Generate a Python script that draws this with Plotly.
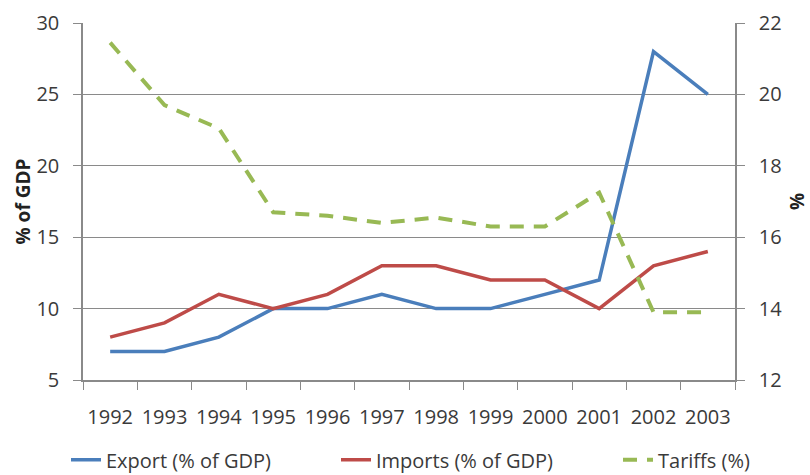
import plotly.graph_objects as go

# Trade openness and tariff levels, 1992-2003
years = ["1992", "1993", "1994", "1995", "1996", "1997",
         "1998", "1999", "2000", "2001", "2002", "2003"]
exports_pct_gdp = [7, 7, 8, 10, 10, 11, 10, 10, 11, 12, 28, 25]
imports_pct_gdp = [8, 9, 11, 10, 11, 13, 13, 12, 12, 10, 13, 14]
tariffs_pct = [21.45, 19.7, 19.05, 16.7, 16.6, 16.4, 16.55, 16.3, 16.3, 17.25, 13.9, 13.9]

left_ticks = [5, 10, 15, 20, 25, 30]
right_ticks = [12, 14, 16, 18, 20, 22]

FONT = "Open Sans"
TEXT = "#3a3a3a"
GRID = "#8a8a8a"
FS = 20

fig = go.Figure()
fig.add_trace(go.Scatter(
    x=years, y=exports_pct_gdp, name="Export (% of GDP)", mode="lines",
    line=dict(color="#4a7ebb", width=3.5), legend="legend",
))
fig.add_trace(go.Scatter(
    x=years, y=imports_pct_gdp, name="Imports (% of GDP)", mode="lines",
    line=dict(color="#be4b48", width=3.5), legend="legend2",
))
fig.add_trace(go.Scatter(
    x=years, y=tariffs_pct, name="Tariffs (%)", mode="lines", yaxis="y2",
    line=dict(color="#98b954", width=4, dash="14px,10px"), legend="legend3",
))

# one single-entry legend per series, spread along the bottom
legend_style = dict(
    orientation="h", xref="container", yref="container",
    xanchor="left", y=0.032, yanchor="middle",
    font=dict(family=FONT, size=FS, color=TEXT),
    bgcolor="rgba(0,0,0,0)",
)

fig.update_layout(
    width=810, height=475,
    margin=dict(l=83, r=75, t=23, b=95),
    paper_bgcolor="white", plot_bgcolor="white",
    font=dict(family=FONT, size=FS, color=TEXT),
    showlegend=True,
    legend=dict(legend_style, x=66 / 810),
    legend2=dict(legend_style, x=336 / 810),
    legend3=dict(legend_style, x=618 / 810),
    xaxis=dict(
        type="category", range=[-0.5, 11.5], automargin=False,
        tickson="boundaries", ticks="outside", ticklen=8, tickcolor=GRID,
        showline=True, linecolor=GRID, linewidth=1.5, tickangle=0,
        showgrid=False, tickfont=dict(size=FS), ticklabelstandoff=18,
    ),
    yaxis=dict(
        range=[5, 30], tickvals=left_ticks, automargin=False,
        ticks="outside", ticklen=8, tickcolor=GRID,
        showline=True, linecolor=GRID, linewidth=1.5,
        showgrid=True, gridcolor=GRID, gridwidth=1.2,
        zeroline=False, tickfont=dict(size=FS), ticklabelstandoff=10,
        title=dict(text="<b>% of GDP</b>", font=dict(size=19, color="#222"), standoff=0),
    ),
    yaxis2=dict(
        range=[12, 22], tickvals=right_ticks, automargin=False,
        overlaying="y", side="right",
        ticks="outside", ticklen=8, tickcolor=GRID,
        showline=True, linecolor=GRID, linewidth=1.5,
        showgrid=False, zeroline=False, tickfont=dict(size=FS), ticklabelstandoff=10,
        title=dict(text="<b>%</b>", font=dict(size=19, color="#222"), standoff=20),
    ),
)

fig.write_html("out.html")
